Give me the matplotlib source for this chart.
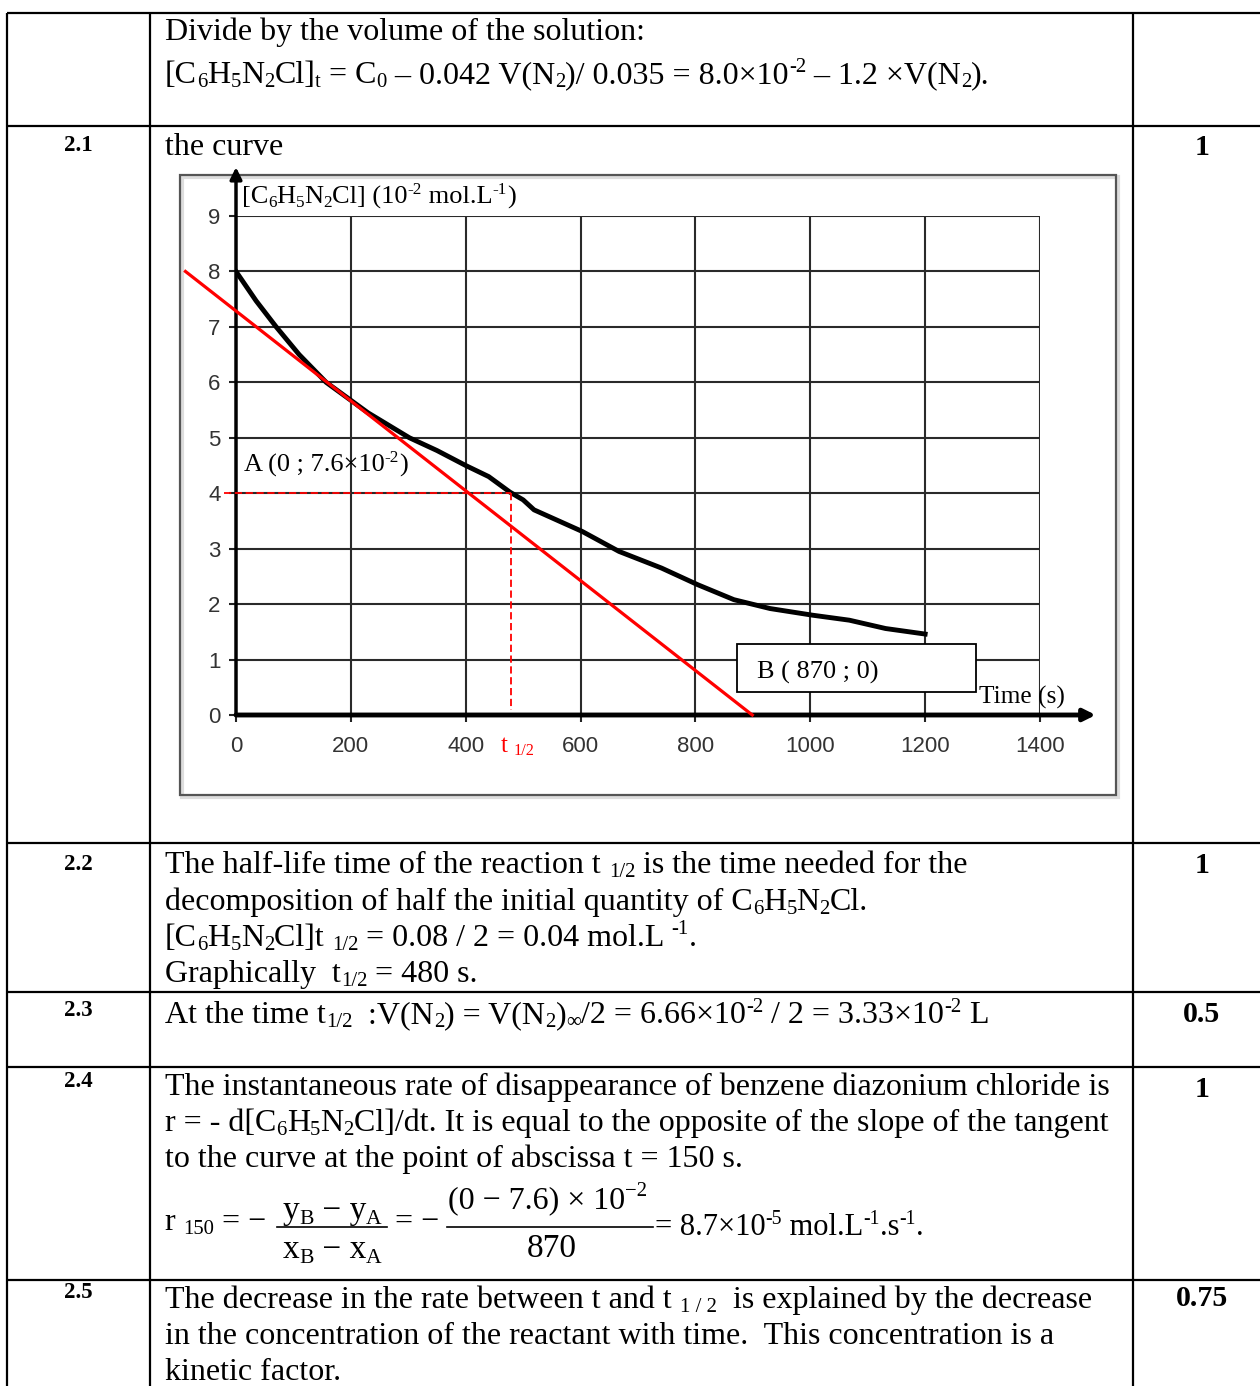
import re
import matplotlib
matplotlib.use("Agg")
import matplotlib.pyplot as plt
from matplotlib.patches import Rectangle
from matplotlib.font_manager import FontProperties

plt.rcParams["font.family"] = ["Liberation Serif", "DejaVu Serif"]

# ── data ─────────────────────────────────────────────────────────────────────
time_s = [0, 35, 70, 110, 157, 230, 302, 350, 400, 440, 477, 500, 519, 603,
          667, 741, 804, 867, 930, 1004, 1068, 1131, 1200]
conc = [8.0, 7.47, 7.0, 6.5, 6.0, 5.45, 5.0, 4.77, 4.5, 4.3, 4.02, 3.88, 3.70,
        3.31, 2.95, 2.65, 2.35, 2.08, 1.92, 1.80, 1.71, 1.56, 1.46]
tangent_t = [-88, 899]
tangent_c = [8.0, 0.0]
t_half, c_half = 479, 4.0
x_ticks = [0, 200, 400, 600, 800, 1000, 1200, 1400]
y_ticks = [0, 1, 2, 3, 4, 5, 6, 7, 8, 9]
point_a = (14, 4.39)
point_b = (907, 0.65)
box_b = (872, 0.42, 417, 0.86)   # x, y, width, height in data units

W, H = 1260, 1386
BODY = 23
fig = plt.figure(figsize=(W / 100, H / 100), dpi=100)
renderer = fig.canvas.get_renderer()

# background axes in pixel coordinates for the table
bg = fig.add_axes([0, 0, 1, 1])
bg.set_xlim(0, W); bg.set_ylim(H, 0); bg.axis("off")

TOK = re.compile(r"(_\{[^}]*\}|\^\{[^}]*\})")


def advance(s, size, weight):
    fp = FontProperties(family=["Liberation Serif", "DejaVu Serif"], size=size, weight=weight)
    w1 = renderer.get_text_width_height_descent("|" + s + "|", fp, ismath=False)[0]
    w0 = renderer.get_text_width_height_descent("||", fp, ismath=False)[0]
    return w1 - w0


def rich(axx, x, y, s, size=BODY, color="k", weight="normal", ha="left"):
    """Text with _{sub} / ^{sup} pieces, x/y in pixels (y down), baseline anchored."""
    em = size * 100 / 72
    arts, cx = [], x
    for part in TOK.split(s):
        if not part:
            continue
        if part.startswith("_{"):
            txt, sc, dy = part[2:-1], 0.65, 0.14
        elif part.startswith("^{"):
            txt, sc, dy = part[2:-1], 0.65, -0.36
        else:
            txt, sc, dy = part, 1.0, 0.0
        t = axx.text(cx, y + dy * em, txt, fontsize=size * sc, color=color,
                     fontweight=weight, va="baseline", ha="left")
        arts.append(t)
        cx += advance(txt, size * sc, weight)
    if ha == "center":
        shift = (cx - x) / 2
        for t in arts:
            t.set_x(t.get_position()[0] - shift)
    return arts


for y in [13, 126, 843, 992, 1067, 1280]:
    bg.plot([7, W], [y, y], color="k", lw=1.6, solid_capstyle="butt")
for x in [7, 150, 1133]:
    bg.plot([x, x], [13, H], color="k", lw=1.6, solid_capstyle="butt")


def body(y, s, x=165, **kw):
    rich(bg, x, y, s, **kw)


def num(y, s):
    bg.text(64, y, s, va="baseline", ha="left", fontsize=16.5, fontweight="bold")


def mark(y, s):
    bg.text(1202, y, s, va="baseline", ha="center", fontsize=21.5, fontweight="bold")


# row 0
body(40, "Divide by the volume of the solution:")
body(83, "[C_{6}H_{5}N_{2}Cl]_{t} = C_{0} – 0.042 V(N_{2})/ 0.035 = 8.0×10^{-2} – 1.2 ×V(N_{2}).")

# row 2.1
num(151, "2.1"); mark(155, "1")
body(155, "the curve")

# row 2.2
num(870, "2.2"); mark(873, "1")
body(873, "The half-life time of the reaction t _{1/2} is the time needed for the")
body(910, "decomposition of half the initial quantity of C_{6}H_{5}N_{2}Cl.")
body(946, "[C_{6}H_{5}N_{2}Cl]t _{1/2} = 0.08 / 2 = 0.04 mol.L ^{-1}.")
body(982, "Graphically  t_{1/2} = 480 s.")

# row 2.3
num(1016, "2.3"); mark(1022, "0.5")
body(1023, "At the time t_{1/2}  :V(N_{2}) = V(N_{2})_{∞}/2 = 6.66×10^{-2} / 2 = 3.33×10^{-2} L")

# row 2.4
num(1087, "2.4"); mark(1097, "1")
body(1095, "The instantaneous rate of disappearance of benzene diazonium chloride is")
body(1131, "r = - d[C_{6}H_{5}N_{2}Cl]/dt. It is equal to the opposite of the slope of the tangent")
body(1167, "to the curve at the point of abscissa t = 150 s.")
body(1230, "r _{150} = −")
bg.plot([277, 387], [1227, 1227], color="k", lw=1.2)
rich(bg, 332, 1219, "y_{B} − y_{A}", size=24, ha="center")
rich(bg, 332, 1258, "x_{B} − x_{A}", size=24, ha="center")
body(1230, "= −", x=395)
bg.plot([447, 653], [1227, 1227], color="k", lw=1.2)
rich(bg, 548, 1208, "(0 − 7.6) × 10^{−2}", size=23, ha="center")
rich(bg, 552, 1257, "870", size=24, ha="center")
body(1235, "= 8.7×10^{-5} mol.L^{-1}.s^{-1}.", x=655, size=22)

# row 2.5
num(1298, "2.5"); mark(1306, "0.75")
body(1308, "The decrease in the rate between t and t _{1 / 2}  is explained by the decrease")
body(1344, "in the concentration of the reactant with time.  This concentration is a")
body(1380, "kinetic factor.")

# ── the embedded chart ───────────────────────────────────────────────────────
bg.add_patch(Rectangle((182, 177), 936, 620, fill=False, ec="#dddddd", lw=3))
bg.add_patch(Rectangle((180, 175), 936, 620, fill=False, ec="#555555", lw=1.6))

ax = fig.add_axes([236 / W, 1 - 715 / H, 804 / W, 499 / H])
ax.set_xlim(0, 1400); ax.set_ylim(0, 9)
ax.patch.set_visible(False)
for s in ax.spines.values():
    s.set_visible(False)
ax.set_xticks(x_ticks); ax.set_yticks(y_ticks)
ax.grid(True, color="#2a2a2a", lw=1.5)
ax.tick_params(axis="both", length=5, width=1.5, color="#222222",
               labelsize=16, labelcolor="#333333")
ax.tick_params(axis="x", pad=10)
ax.tick_params(axis="y", pad=6)
for lbl in ax.get_xticklabels() + ax.get_yticklabels():
    lbl.set_fontfamily("Liberation Sans")

ax.annotate("", xy=(1497, 0), xytext=(0, 0), annotation_clip=False,
            arrowprops=dict(arrowstyle="-|>,head_length=0.7,head_width=0.35",
                            color="k", lw=3.5, shrinkA=0, shrinkB=0))
ax.annotate("", xy=(0, 9.88), xytext=(0, 0), annotation_clip=False,
            arrowprops=dict(arrowstyle="-|>,head_length=0.7,head_width=0.35",
                            color="k", lw=2.5, shrinkA=0, shrinkB=0))

ax.plot(time_s, conc, color="k", lw=3.5, solid_joinstyle="round", zorder=3)
ax.plot(tangent_t, tangent_c, color="#ff0000", lw=2.3, clip_on=False, zorder=4)
ax.plot([-21, t_half], [c_half, c_half], color="#ff0000", lw=1.3, ls=(0, (4, 2)),
        clip_on=False, zorder=4)
ax.plot([t_half, t_half], [c_half, 0.09], color="#ff0000", lw=1.3, ls=(0, (4, 2)),
        clip_on=False, zorder=4)
ax.add_patch(Rectangle(box_b[:2], box_b[2], box_b[3], fc="white", ec="k", lw=1.3, zorder=5))

# overlay for chart labels (pixel coords, drawn above the chart axes)
top = fig.add_axes([0, 0, 1, 1])
top.set_xlim(0, W); top.set_ylim(H, 0); top.axis("off")


def px(x, y):
    dx, dy = ax.transData.transform((x, y))
    return dx, H - dy


rich(top, *px(10, 9.23), "[C_{6}H_{5}N_{2}Cl] (10^{-2} mol.L^{-1})", size=19)
rich(top, *px(*point_a), "A (0 ; 7.6×10^{-2})", size=19)
rich(top, *px(*point_b), "B ( 870 ; 0)", size=19)
rich(top, *px(1294, 0.21), "Time (s)", size=18.3)
rich(top, *px(461, -0.66), "t _{1/2}", size=18, color="#ff0000")

fig.savefig("out.png", dpi=100)
